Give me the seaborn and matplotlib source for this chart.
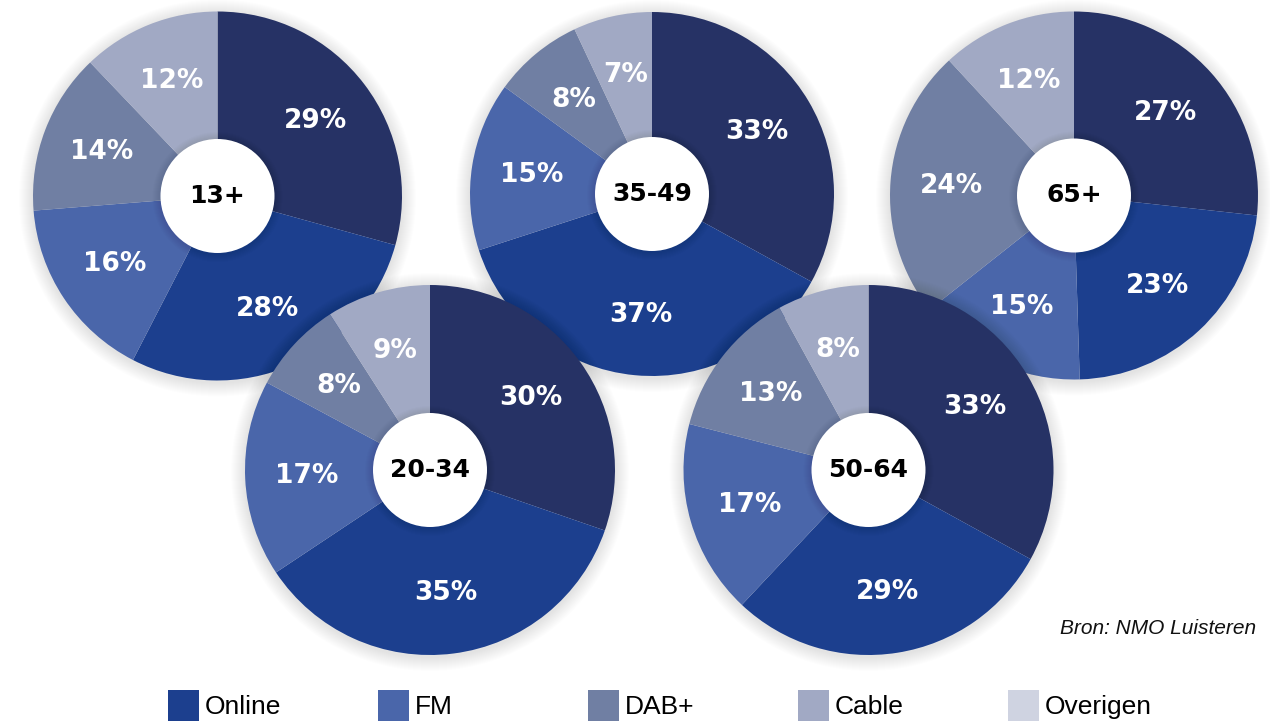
import matplotlib
matplotlib.use("Agg")
import matplotlib.pyplot as plt
from matplotlib.patches import Circle, Rectangle
import seaborn as sns

sns.set_theme(style="white")
plt.rcParams['font.family'] = ['DejaVu Sans']

# ---- data ----
groups = ["13+", "35-49", "65+", "20-34", "50-64"]
vals_13 = [29, 28, 16, 14, 12]
vals_35_49 = [33, 37, 15, 8, 7]
vals_65 = [27, 23, 15, 24, 12]
vals_20_34 = [30, 35, 17, 8, 9]
vals_50_64 = [33, 29, 17, 13, 8]
series = [vals_13, vals_35_49, vals_65, vals_20_34, vals_50_64]
legend_labels = ["Online", "FM", "DAB+", "Cable", "Overigen"]
source = "Bron: NMO Luisteren"

# ---- styles / layout ----
slice_colors = sns.color_palette(["#263265", "#1c3f8e", "#4a66aa", "#707fa3", "#a1a9c4"])
legend_colors = sns.color_palette(["#1c3f8e", "#4a66aa", "#707fa3", "#a1a9c4", "#cfd3e1"])
centers = [(217.5, 526), (652, 528), (1074, 526.5), (430, 252), (868.5, 252)]
radii = [184.5, 182, 184, 185, 185]
hole_r = 57

W, H = 1270, 722
fig = plt.figure(figsize=(W / 100, H / 100), dpi=100)
ax = fig.add_axes([0, 0, 1, 1])

for i, (name, vals) in enumerate(zip(groups, series)):
    cx, cy = centers[i]
    r = radii[i]
    z = 10 * (i + 1)
    # soft shadow
    for k in range(14, 0, -1):
        ax.add_patch(Circle((cx, cy - 2), r + k, color="black", alpha=0.009,
                            lw=0, zorder=z))
    it = iter(vals)
    wedges, texts, autotexts = ax.pie(
        vals, colors=slice_colors, startangle=90, counterclock=False,
        center=(cx, cy), radius=r, autopct=lambda p, it=it: f"{next(it)}%",
        pctdistance=0.67, wedgeprops=dict(linewidth=0),
        textprops=dict(color="white", fontsize=19, fontweight="bold"))
    for w in wedges:
        w.set_zorder(z + 1)
    for t in autotexts:
        t.set_zorder(z + 4)
    # inner shadow + white hole
    for k in range(8, 0, -1):
        ax.add_patch(Circle((cx, cy - 1), hole_r + k, color="black", alpha=0.012,
                            lw=0, zorder=z + 2))
    ax.add_patch(Circle((cx, cy), hole_r, color="white", lw=0, zorder=z + 3))
    ax.text(cx, cy, name, ha="center", va="center", fontsize=18,
            fontweight="bold", color="black", zorder=z + 4)

# legend
for j, (lab, col) in enumerate(zip(legend_labels, legend_colors)):
    x0 = 168 + j * 210
    ax.add_patch(Rectangle((x0, 1), 31, 31, color=col, lw=0, zorder=100))
    ax.text(x0 + 37, 15, lab, ha="left", va="center", fontsize=19,
            family=["Liberation Sans", "DejaVu Sans"], color="black", zorder=100)

ax.text(1256, 94, source, ha="right", va="center", fontsize=15, style="italic",
        family=["Liberation Sans", "DejaVu Sans"], color="#111111", zorder=100)

ax.set_xlim(0, W)
ax.set_ylim(0, H)
ax.set_aspect("equal")
ax.axis("off")
fig.savefig("out.png", dpi=100, facecolor="white")
